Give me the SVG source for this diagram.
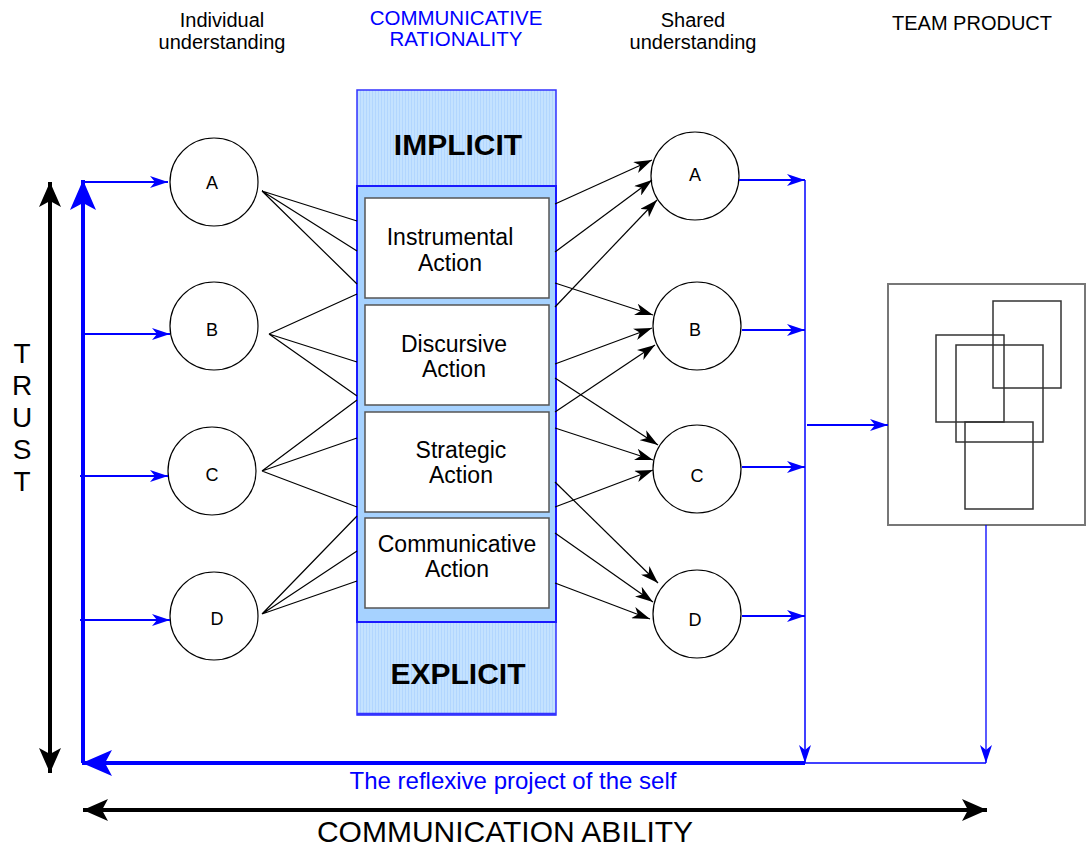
<svg xmlns="http://www.w3.org/2000/svg" width="1086" height="847" viewBox="0 0 1086 847">
<defs>
<style>
text{font-family:"Liberation Sans",Arial,sans-serif;}
.hdr{font-size:20px;fill:#000;text-anchor:middle;}
.hdrb{font-size:20.5px;fill:#0000ff;text-anchor:middle;}
.node circle{fill:#fff;stroke:#000;stroke-width:1.2;}
.node text{font-size:18px;text-anchor:middle;fill:#000;}
.box rect{fill:#fff;stroke:#555;stroke-width:1.5;}
.box text{font-size:23px;text-anchor:middle;fill:#000;}
.big{font-size:30px;font-weight:bold;text-anchor:middle;fill:#000;}
.thin{stroke:#000;stroke-width:1.2;fill:none;}
.arr{stroke:#000;stroke-width:1.2;fill:none;marker-end:url(#ah);}
.blu{stroke:#0000ff;stroke-width:2;fill:none;marker-end:url(#bh);}
.blut{stroke:#0000ff;stroke-width:1.3;fill:none;}
</style>
<pattern id="hatch" width="3" height="4" patternUnits="userSpaceOnUse">
<rect width="3" height="4" fill="#c4e2ff"/>
<rect width="1" height="4" fill="#b2d6ff"/>
</pattern>
<marker id="ah" viewBox="0 0 18 12" refX="18" refY="6" markerWidth="18" markerHeight="12" markerUnits="userSpaceOnUse" orient="auto">
<path d="M0,0 L18,6 L0,12 L5,6 Z" fill="#000"/>
</marker>
<marker id="bh" viewBox="0 0 18 12" refX="18" refY="6" markerWidth="18" markerHeight="12" markerUnits="userSpaceOnUse" orient="auto">
<path d="M0,0 L18,6 L0,12 L5,6 Z" fill="#0000ff"/>
</marker>
<marker id="bbig" viewBox="0 0 30 26" refX="30" refY="13" markerWidth="30" markerHeight="26" markerUnits="userSpaceOnUse" orient="auto">
<path d="M0,0 L30,13 L0,26 L7,13 Z" fill="#0000ff"/>
</marker>
<marker id="kbig" viewBox="0 0 25 22" refX="25" refY="11" markerWidth="25" markerHeight="22" markerUnits="userSpaceOnUse" orient="auto-start-reverse">
<path d="M0,0 L25,11 L0,22 L6,11 Z" fill="#000"/>
</marker>
</defs>
<rect width="1086" height="847" fill="#fff"/>

<!-- headers -->
<g id="headers">
<text class="hdr" x="222" y="27">Individual</text>
<text class="hdr" x="222" y="49">understanding</text>
<text class="hdrb" x="456" y="25">COMMUNICATIVE</text>
<text class="hdrb" x="456" y="46">RATIONALITY</text>
<text class="hdr" x="693" y="27">Shared</text>
<text class="hdr" x="693" y="49">understanding</text>
<text class="hdr" x="972" y="30">TEAM PRODUCT</text>
</g>

<!-- central column -->
<g id="column">
<rect x="357" y="90" width="199" height="625" fill="url(#hatch)" stroke="#3333ff" stroke-width="1.5"/>
<line x1="357" y1="714" x2="556" y2="714" stroke="#3333ff" stroke-width="2.5"/>
<rect x="357" y="186" width="199" height="436" fill="#a6d2ff" stroke="#1a1aff" stroke-width="2"/>
<text class="big" x="458" y="155">IMPLICIT</text>
<text class="big" x="458" y="684">EXPLICIT</text>
</g>
<g id="instrumental" class="box"><rect x="365" y="198" width="184" height="100"/><text x="450" y="245">Instrumental</text><text x="450" y="271">Action</text></g>
<g id="discursive" class="box"><rect x="365" y="305" width="184" height="100"/><text x="454" y="352">Discursive</text><text x="454" y="377">Action</text></g>
<g id="strategic" class="box"><rect x="365" y="412" width="184" height="100"/><text x="461" y="458">Strategic</text><text x="461" y="483">Action</text></g>
<g id="communicative" class="box"><rect x="365" y="518" width="184" height="90"/><text x="457" y="552">Communicative</text><text x="457" y="577">Action</text></g>

<!-- left nodes -->
<g id="iA" class="node"><circle cx="214" cy="182" r="44"/><text x="212" y="189">A</text></g>
<g id="iB" class="node"><circle cx="214" cy="326" r="44"/><text x="212" y="336">B</text></g>
<g id="iC" class="node"><circle cx="212" cy="471" r="44"/><text x="212" y="481">C</text></g>
<g id="iD" class="node"><circle cx="214" cy="616" r="44"/><text x="217" y="625">D</text></g>

<!-- right nodes -->
<g id="sA" class="node"><circle cx="695" cy="176" r="44"/><text x="695" y="181">A</text></g>
<g id="sB" class="node"><circle cx="697" cy="326" r="44"/><text x="695" y="336">B</text></g>
<g id="sC" class="node"><circle cx="697" cy="469" r="44"/><text x="697" y="482">C</text></g>
<g id="sD" class="node"><circle cx="697" cy="614" r="44"/><text x="695" y="626">D</text></g>

<!-- team product -->
<g id="team">
<rect x="888" y="284" width="197" height="241" fill="#fff" stroke="#777" stroke-width="2"/>
<g fill="none" stroke="#333" stroke-width="1.5">
<rect x="993" y="301" width="68" height="87"/>
<rect x="936" y="335" width="68" height="87"/>
<rect x="956" y="345" width="87" height="97"/>
<rect x="965" y="422" width="68" height="87"/>
</g>
</g>

<!-- TRUST / COMMUNICATION ABILITY -->
<g id="axes">
<line x1="50" y1="182" x2="50" y2="773" stroke="#000" stroke-width="4" marker-start="url(#kbig)" marker-end="url(#kbig)"/>
<text x="22" y="363" font-size="28" text-anchor="middle">T</text>
<text x="22" y="395" font-size="28" text-anchor="middle">R</text>
<text x="22" y="427" font-size="28" text-anchor="middle">U</text>
<text x="22" y="459" font-size="28" text-anchor="middle">S</text>
<text x="22" y="491" font-size="28" text-anchor="middle">T</text>
<line x1="83" y1="810" x2="987" y2="810" stroke="#000" stroke-width="4" marker-start="url(#kbig)" marker-end="url(#kbig)"/>
<text x="505" y="842" font-size="30" text-anchor="middle">COMMUNICATION ABILITY</text>
<text x="513" y="789" font-size="24" text-anchor="middle" fill="#0000ff">The reflexive project of the self</text>
</g>

<g id="connectors">
<!-- left fan lines -->
<path class="thin" d="M262,191 L357,221 M262,191 L357,251 M262,191 L357,284"/>
<path class="thin" d="M269,334 L357,294 M269,334 L357,362 M269,334 L357,396"/>
<path class="thin" d="M262,471 L357,400 M262,471 L357,438 M262,471 L357,507"/>
<path class="thin" d="M262,614 L357,516 M262,614 L357,551 M262,614 L357,581"/>
<!-- right arrows -->
<line class="arr" x1="555" y1="204" x2="652" y2="160"/>
<line class="arr" x1="555" y1="252" x2="652" y2="180"/>
<line class="arr" x1="555" y1="307" x2="657" y2="200"/>
<line class="arr" x1="555" y1="283" x2="653" y2="315"/>
<line class="arr" x1="555" y1="364" x2="652" y2="328"/>
<line class="arr" x1="555" y1="412" x2="655" y2="345"/>
<line class="arr" x1="555" y1="378" x2="658" y2="445"/>
<line class="arr" x1="555" y1="428" x2="653" y2="460"/>
<line class="arr" x1="555" y1="507" x2="653" y2="470"/>
<line class="arr" x1="555" y1="482" x2="658" y2="583"/>
<line class="arr" x1="555" y1="533" x2="653" y2="602"/>
<line class="arr" x1="555" y1="583" x2="650" y2="619"/>
<!-- left blue feedback -->
<line x1="83" y1="763" x2="83" y2="180" stroke="#0000ff" stroke-width="4" marker-end="url(#bbig)"/>
<line class="blu" x1="83" y1="182" x2="168" y2="182"/>
<line class="blu" x1="81" y1="334" x2="170" y2="334"/>
<line class="blu" x1="80" y1="476" x2="168" y2="476"/>
<line class="blu" x1="80" y1="620" x2="170" y2="620"/>
<!-- right blue -->
<line class="blu" x1="739" y1="180" x2="805" y2="180"/>
<line class="blu" x1="742" y1="330" x2="805" y2="330"/>
<line class="blu" x1="742" y1="467" x2="805" y2="467"/>
<line class="blu" x1="742" y1="616" x2="805" y2="616"/>
<line x1="805" y1="180" x2="805" y2="763" stroke="#0000ff" stroke-width="1.5" marker-end="url(#bh)"/>
<line class="blu" x1="807" y1="425" x2="888" y2="425"/>
<line x1="986" y1="525" x2="986" y2="763" stroke="#0000ff" stroke-width="1.3" marker-end="url(#bh)"/>
<line class="blut" x1="805" y1="763" x2="986" y2="763"/>
<line x1="805" y1="763" x2="82" y2="763" stroke="#0000ff" stroke-width="4" marker-end="url(#bbig)"/>
</g>
</svg>
